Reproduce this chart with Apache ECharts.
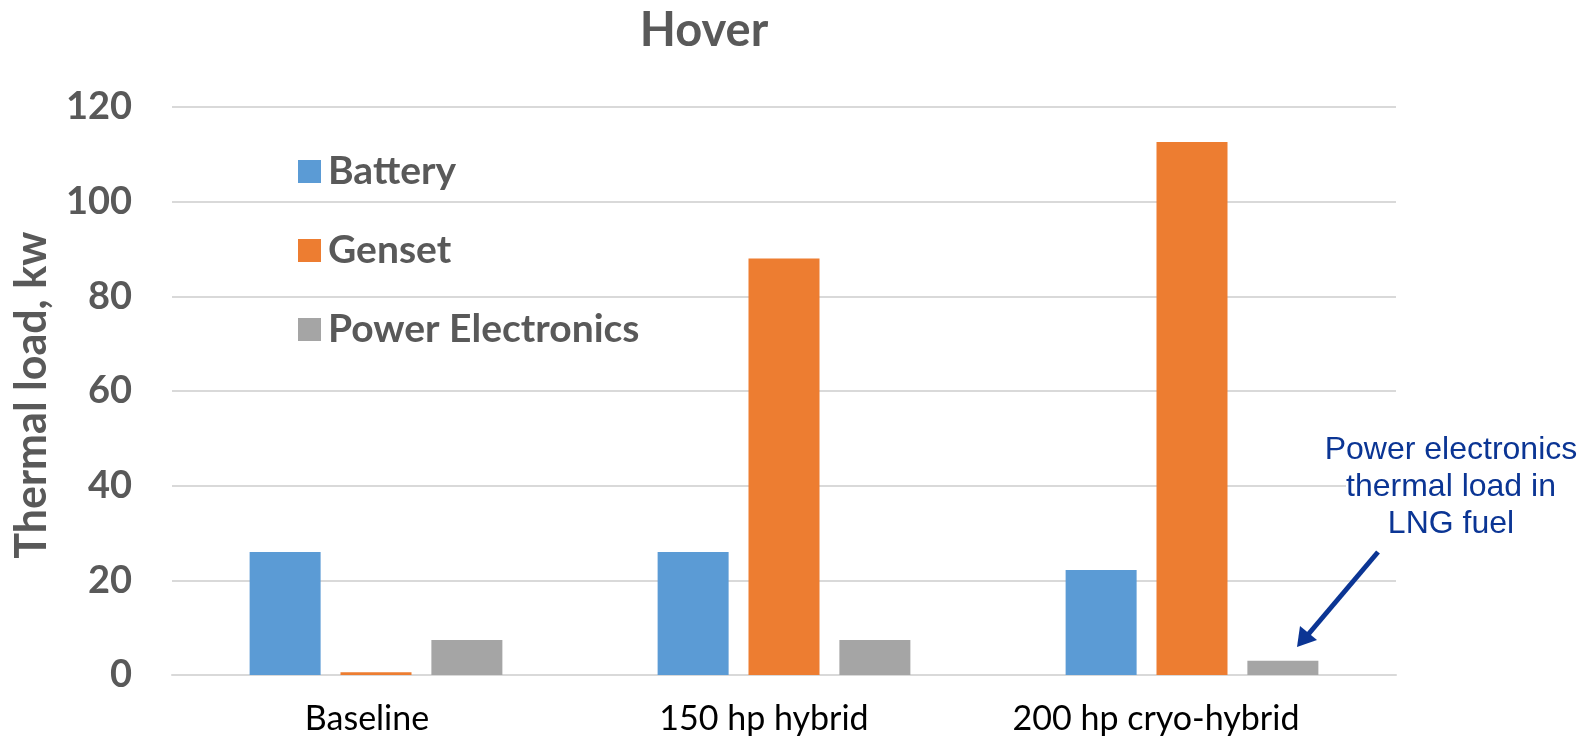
<!DOCTYPE html>
<html>
<head>
<meta charset="utf-8">
<script src="https://cdn.jsdelivr.net/npm/echarts@6/dist/echarts.min.js"></script>
<style>html,body{margin:0;padding:0;background:#fff}#c{width:1593px;height:737px}</style>
</head>
<body>
<div id="c"></div>
<script>
const categories = ['Baseline', '150 hp hybrid', '200 hp cryo-hybrid'];
const battery = [26.0, 26.0, 22.2];
const genset = [0.6, 88.0, 112.6];
const powerElectronics = [7.4, 7.4, 3.0];
const yTicks = [0, 20, 40, 60, 80, 100, 120];

const chart = echarts.init(document.getElementById('c'));
const labelKeys = ['a', 'b', 'c'];
chart.setOption({
  animation: false,
  backgroundColor: '#fff',
  title: {
    text: 'Hover', left: 699, top: 2, textAlign: 'center',
    textStyle: { fontFamily: 'Lato', fontWeight: 'bold', fontSize: 47, color: '#595959' }
  },
  legend: {
    orient: 'vertical', left: 293, top: 147,
    itemWidth: 23, itemHeight: 23, itemGap: 40, icon: 'rect',
    textStyle: { fontFamily: 'Lato', fontWeight: 'bold', fontSize: 39, color: '#595959', lineHeight: 38, padding: [0, 0, 0, 2] },
    data: ['Battery', 'Genset', 'Power Electronics']
  },
  grid: { left: 172, right: 197, top: 107, bottom: 62, containLabel: false },
  xAxis: {
    type: 'category', data: categories,
    axisLine: { lineStyle: { color: '#d9d9d9', width: 2 } },
    axisTick: { show: false },
    axisLabel: {
      interval: 0, hideOverlap: false,
      margin: 27, fontFamily: 'Lato', fontSize: 34, color: '#000',
      formatter: (v, i) => '{' + labelKeys[i] + '|' + v + '}',
      rich: {
        a: { fontFamily: 'Lato', fontSize: 34, color: '#000', padding: [0, 18, 0, 0] },
        b: { fontFamily: 'Lato', fontSize: 34, color: '#000', padding: [0, 40, 0, 0] },
        c: { fontFamily: 'Lato', fontSize: 34, color: '#000', padding: [0, 72, 0, 0] }
      }
    }
  },
  yAxis: {
    type: 'value', min: yTicks[0], max: yTicks[yTicks.length - 1], interval: 20,
    name: 'Thermal load, kw', nameLocation: 'middle', nameGap: 118, nameRotate: 90,
    nameTextStyle: { fontFamily: 'Lato', fontWeight: 'bold', fontSize: 43, color: '#595959', padding: [0, 8, 0, 0] },
    axisLine: { show: false }, axisTick: { show: false },
    axisLabel: { margin: 40, fontFamily: 'Lato', fontWeight: 'bold', fontSize: 38, color: '#595959' },
    splitLine: { lineStyle: { color: '#d9d9d9', width: 2 } }
  },
  series: [
    { name: 'Battery', type: 'bar', data: battery, barWidth: 71, barGap: '28%', itemStyle: { color: '#5b9bd5' } },
    { name: 'Genset', type: 'bar', data: genset, barWidth: 71, barGap: '28%', itemStyle: { color: '#ed7d31' } },
    { name: 'Power Electronics', type: 'bar', data: powerElectronics, barWidth: 71, barGap: '28%', itemStyle: { color: '#a5a5a5' } }
  ],
  graphic: [
    {
      type: 'rect', z: 100, shape: { x: 1346, y: 476, width: 56, height: 20 },
      style: { fill: '#fff' }
    },
    {
      type: 'text', z: 101,
      style: {
        x: 1451, y: 432,
        text: 'Power electronics\nthermal load in\nLNG fuel',
        fontFamily: 'Liberation Sans', fontSize: 32, lineHeight: 37,
        fill: '#0b3594', align: 'center', verticalAlign: 'top'
      }
    },
    {
      type: 'line', z: 101, shape: { x1: 1378, y1: 552, x2: 1306, y2: 637 },
      style: { stroke: '#0b3594', lineWidth: 5 }
    },
    {
      type: 'polygon', z: 101, shape: { points: [[1297, 647], [1300, 626], [1317, 640]] },
      style: { fill: '#0b3594' }
    }
  ]
});
</script>
</body>
</html>
